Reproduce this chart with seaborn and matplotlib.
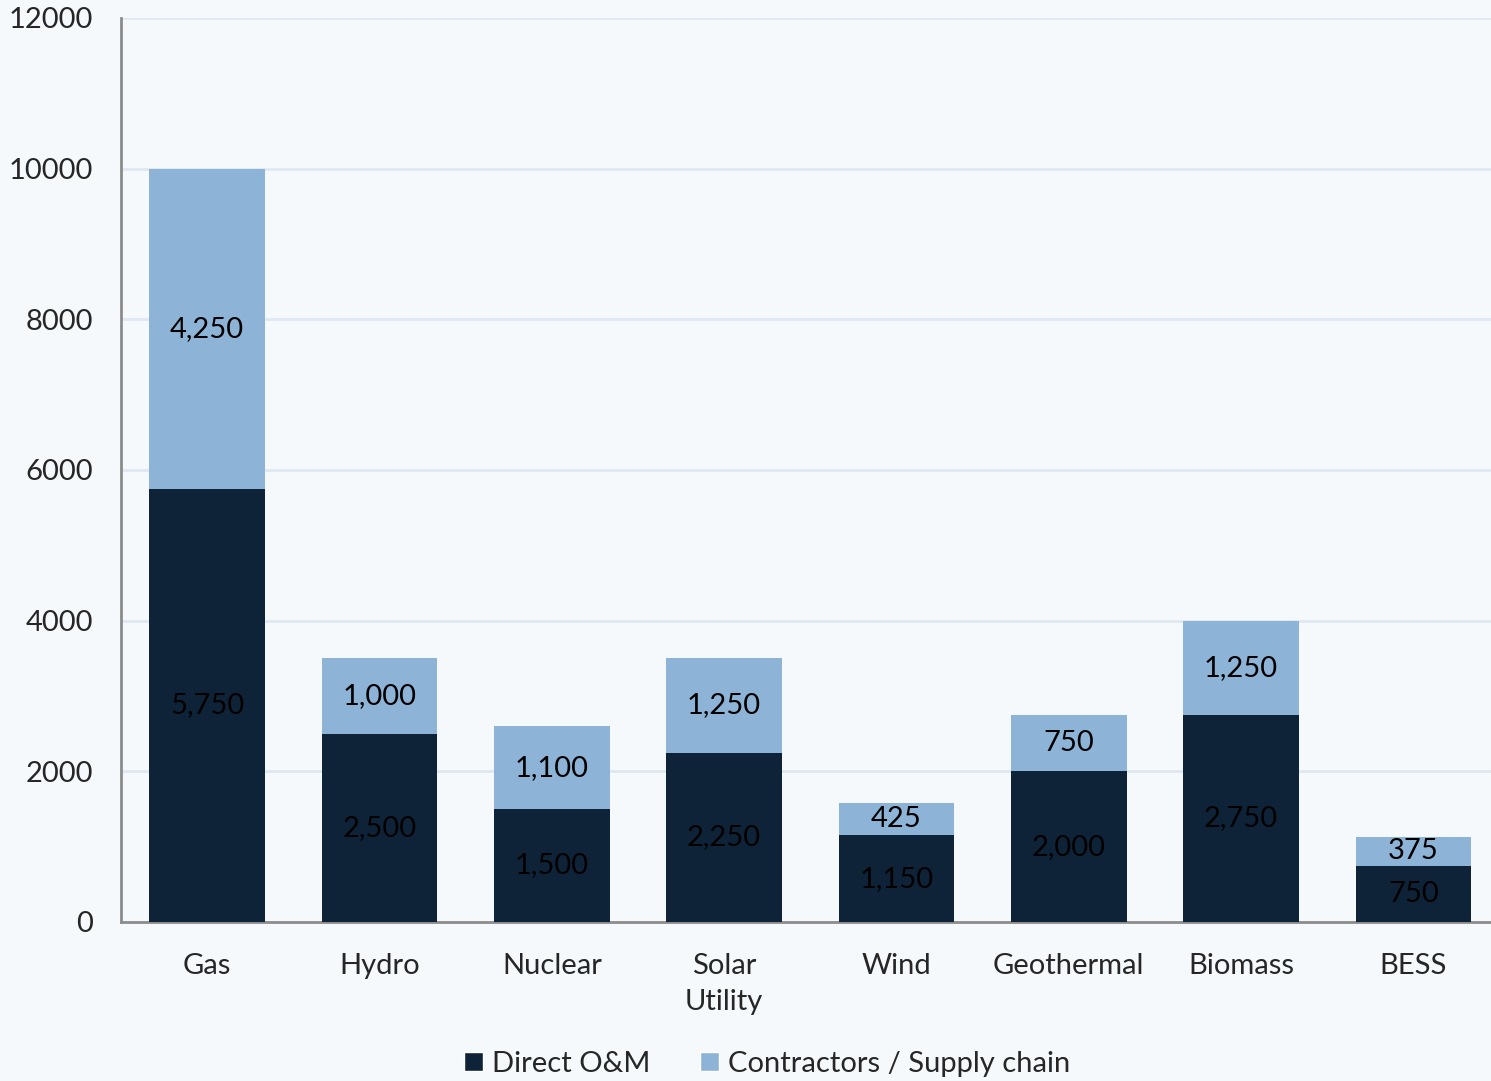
import matplotlib
matplotlib.use("Agg")
import matplotlib.pyplot as plt
import seaborn as sns
import pandas as pd
from matplotlib.patches import Patch

categories = ["Gas", "Hydro", "Nuclear", "Solar\nUtility", "Wind", "Geothermal", "Biomass", "BESS"]
direct_om = [5750, 2500, 1500, 2250, 1150, 2000, 2750, 750]
contractors = [4250, 1000, 1100, 1250, 425, 750, 1250, 375]
y_ticks = [0, 2000, 4000, 6000, 8000, 10000, 12000]

dark = "#0f2338"
light = "#8db4d7"
bg = "#f5f9fc"
grid_c = "#dfe8f2"
axis_c = "#8c8c8c"

sns.set_theme(style="white")
plt.rcParams["font.family"] = ["Lato", "DejaVu Sans"]

df = pd.DataFrame({
    "category": categories,
    "direct": direct_om,
    "contractors": contractors,
})
df["total"] = df["direct"] + df["contractors"]

fig = plt.figure(figsize=(14.91, 10.81), dpi=100, facecolor=bg)
ax = fig.add_axes([121 / 1491, 1 - 922 / 1081, (1491 - 121) / 1491, (922 - 18) / 1081])
ax.set_facecolor(bg)

sns.barplot(data=df, x="category", y="total", color=light, width=0.67,
            saturation=1, ax=ax, zorder=2, linewidth=0)
sns.barplot(data=df, x="category", y="direct", color=dark, width=0.67,
            saturation=1, ax=ax, zorder=3, linewidth=0)

fs = 21
for i, row in df.iterrows():
    ax.text(i, row["direct"] / 2, f"{row['direct']:,}", ha="center", va="center",
            fontsize=fs, color="black", zorder=4)
    ax.text(i, row["direct"] + row["contractors"] / 2, f"{row['contractors']:,}",
            ha="center", va="center", fontsize=fs, color="black", zorder=4)

ax.set_ylim(0, 12000)
ax.set_xlim(-0.5, 7.45)
ax.set_yticks(y_ticks)
ax.set_yticklabels([str(t) for t in y_ticks])
ax.yaxis.grid(True, color=grid_c, linewidth=2, zorder=0)
ax.set_axisbelow(True)
ax.set_xlabel("")
ax.set_ylabel("")

# category boundaries carry the x ticks; names sit between them
ax.set_xticks([i - 0.5 for i in range(len(categories))])
ax.set_xticklabels([])
ax.set_xticks(range(len(categories)), minor=True)
ax.set_xticklabels(categories, minor=True, fontsize=fs, linespacing=1.5)
ax.tick_params(axis="x", which="minor", length=0, pad=22)
ax.tick_params(axis="x", which="major", length=8, width=2, color=axis_c, direction="out")
ax.tick_params(axis="y", length=8, width=2, color=axis_c, direction="out", labelsize=fs, pad=12)

for side in ["top", "right"]:
    ax.spines[side].set_visible(False)
for side in ["left", "bottom"]:
    ax.spines[side].set_color(axis_c)
    ax.spines[side].set_linewidth(2)

handles = [Patch(facecolor=dark, label="Direct O&M"),
           Patch(facecolor=light, label="Contractors / Supply chain")]
fig.legend(handles=handles, loc="center", bbox_to_anchor=(767 / 1491, 1 - 1064 / 1081),
           ncol=2, frameon=False, fontsize=fs, handlelength=0.65, handleheight=0.65,
           handletextpad=0.3, columnspacing=1.7)

fig.savefig("out.png", dpi=100, facecolor=bg)
